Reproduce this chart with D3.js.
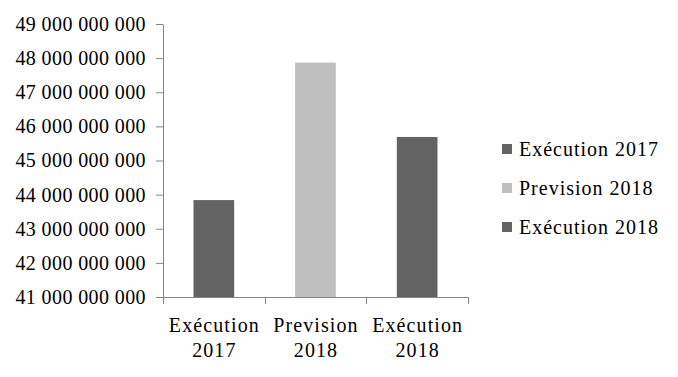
<!DOCTYPE html>
<html>
<head>
<meta charset="utf-8">
<script src="https://cdn.jsdelivr.net/npm/d3@7"></script>
<style>
  body { margin: 0; background: #fff; }
</style>
</head>
<body>
<div id="chart"></div>
<script>
// data
var categories = ["Exécution 2017", "Prevision 2018", "Exécution 2018"];
var values = [43840000000, 47870000000, 45690000000];
var colors = ["#636363", "#bfbfbf", "#636363"];
var yTicks = [41e9, 42e9, 43e9, 44e9, 45e9, 46e9, 47e9, 48e9, 49e9];

var W = 678, H = 377;
var margin = { top: 24, right: 210, bottom: 80, left: 163 };

var svg = d3.select("#chart").append("svg")
    .attr("width", W)
    .attr("height", H);

var x = d3.scaleBand()
    .domain(categories)
    .range([margin.left, 468])
    .paddingInner(0.6)
    .paddingOuter(0.3);

var y = d3.scaleLinear()
    .domain([41e9, 49e9])
    .range([297, margin.top]);

// thousands separated by spaces
var fmt = function (d) { return d3.format(",")(d).replace(/,/g, " "); };

function serif(sel, spacing) {
    sel.attr("font-family", "Liberation Serif")
        .attr("font-size", 20)
        .attr("letter-spacing", spacing)
        .attr("fill", "#000");
}

// bars
svg.append("g").selectAll("rect")
    .data(values)
    .enter().append("rect")
    .attr("x", (d, i) => x(categories[i]))
    .attr("width", x.bandwidth())
    .attr("y", d => y(d))
    .attr("height", d => y(41e9) - y(d))
    .attr("fill", (d, i) => colors[i]);

// y axis
var yAxis = svg.append("g")
    .attr("transform", "translate(" + margin.left + ",0)")
    .call(d3.axisLeft(y).tickValues(yTicks).tickFormat(fmt).tickSize(7).tickSizeOuter(0).tickPadding(10));
yAxis.call(serif, 0.4);
yAxis.select(".domain").attr("stroke", "#868686");
yAxis.selectAll(".tick line").attr("stroke", "#868686");
yAxis.selectAll("text").call(serif, 0.4);

// x axis: separator ticks between bands
var xg = svg.append("g").attr("class", "xaxis");
xg.append("line")
    .attr("x1", margin.left).attr("x2", 468)
    .attr("y1", y(41e9) + 0.5).attr("y2", y(41e9) + 0.5)
    .attr("stroke", "#868686");
var bounds = categories.map(c => x(c) - x.step() * x.paddingInner() / 2);
bounds[0] = margin.left;
bounds.push(468);
xg.selectAll("line.sep")
    .data(bounds)
    .enter().append("line")
    .attr("class", "sep")
    .attr("x1", d => Math.round(d) + 0.5).attr("x2", d => Math.round(d) + 0.5)
    .attr("y1", y(41e9)).attr("y2", y(41e9) + 7)
    .attr("stroke", "#868686");

var xl = xg.selectAll("text")
    .data(categories)
    .enter().append("text")
    .attr("text-anchor", "middle")
    .attr("transform", d => "translate(" + (x(d) + x.bandwidth() / 2 + 0.5) + ",0)")
    .call(serif, 1.1);
xl.append("tspan").attr("x", 0).attr("y", 332).text(d => d.split(" ")[0]);
xl.append("tspan").attr("x", 0).attr("y", 357).text(d => d.split(" ")[1]);

// legend
var legend = svg.append("g").selectAll("g")
    .data(categories)
    .enter().append("g")
    .attr("transform", (d, i) => "translate(502," + (149 + i * 39) + ")");
legend.append("rect")
    .attr("x", 0).attr("y", -5)
    .attr("width", 10).attr("height", 10)
    .attr("fill", (d, i) => colors[i]);
legend.append("text")
    .attr("x", 17)
    .attr("dy", "0.35em")
    .text(d => d)
    .call(serif, 1);
</script>
</body>
</html>
